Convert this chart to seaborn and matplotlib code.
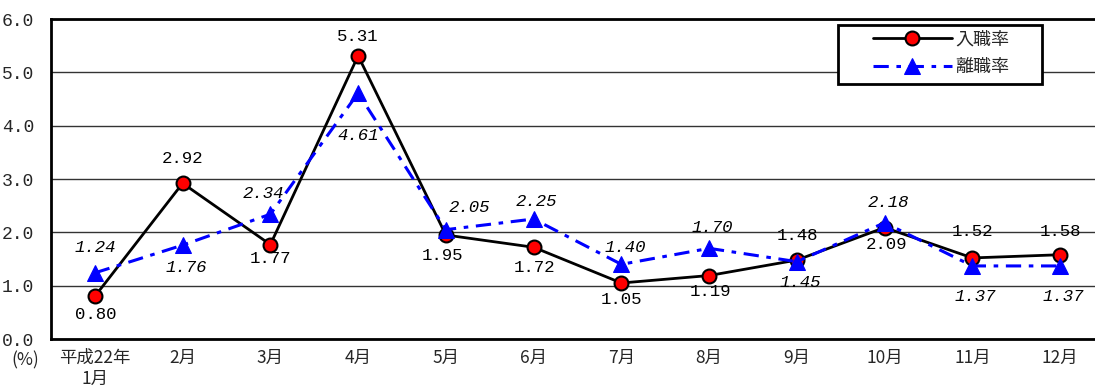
import numpy as np
import pandas as pd
import matplotlib
matplotlib.use("Agg")
import matplotlib.pyplot as plt
from matplotlib.patches import Rectangle
import seaborn as sns

# Monthly hiring / separation rates (%)
months = ["平成22年\n1月", "2月", "3月", "4月", "5月", "6月",
          "7月", "8月", "9月", "10月", "11月", "12月"]
hire_rate = [0.80, 2.92, 1.77, 5.31, 1.95, 1.72, 1.05, 1.19, 1.48, 2.09, 1.52, 1.58]
sep_rate = [1.24, 1.76, 2.34, 4.61, 2.05, 2.25, 1.40, 1.70, 1.45, 2.18, 1.37, 1.37]
series_names = ["入職率", "離職率"]
y_ticks = [0.0, 1.0, 2.0, 3.0, 4.0, 5.0, 6.0]

# Label offsets in pixels (dx, dy) relative to each point
hire_offsets = [(1, -18), (0, 25), (0, -14), (0, 19), (-3, -20), (1, -20),
                (0, -17), (1, -16), (1, 25), (2, -17), (0, 26), (0, 23)]
sep_offsets = [(0, 25), (4, -22), (-7, 21), (0, -42), (24, 22), (3, 17),
               (4, 17), (3, 21), (3, -21), (4, 20), (3, -31), (3, -31)]

sns.set_theme(style="white")
jp = ["Noto Sans CJK JP", "DejaVu Sans"]
num_font = ["Liberation Mono", "Noto Sans CJK JP"]
plt.rcParams["font.family"] = jp

W, H = 1095, 392
fig = plt.figure(figsize=(W / 100, H / 100), dpi=100)
left, right, top, bottom = 51, 1104, 19, 339
ax = fig.add_axes([left / W, 1 - bottom / H, (right - left) / W, (bottom - top) / H])

x = np.arange(len(months))
df = pd.DataFrame({"x": x, "hire": hire_rate, "sep": sep_rate})

sns.lineplot(data=df, x="x", y="hire", ax=ax, color="black", linewidth=2,
             marker="o", markersize=10, markerfacecolor="red",
             markeredgecolor="black", markeredgewidth=1.5, label=series_names[0],
             zorder=3, legend=False)
sns.lineplot(data=df, x="x", y="sep", ax=ax, color="blue", linewidth=2.2,
             marker="^", markersize=11, markerfacecolor="blue",
             markeredgecolor="blue", label=series_names[1], zorder=4, legend=False)
hire_line, sep_line = ax.get_lines()[0], ax.get_lines()[1]
sep_line.set_dashes([5, 2.5, 1.5, 2.5])

ax.set_xlim(-0.5, len(months) - 0.5)
ax.set_ylim(0, 6)
ax.set_xlabel("")
ax.set_ylabel("")

ax.set_yticks(y_ticks)
ax.set_yticklabels([f"{v:.1f}" for v in y_ticks], fontsize=13, family=num_font)
ax.tick_params(axis="y", length=0, pad=12)
ax.yaxis.grid(True, color="#333333", linewidth=1)
ax.xaxis.grid(False)
ax.set_axisbelow(True)

ax.set_xticks(x)
ax.set_xticklabels(months, fontsize=12.5, linespacing=1.2)
ax.set_xticks(np.arange(len(months) + 1) - 0.5, minor=True)
ax.tick_params(axis="x", which="major", length=0, pad=7)
ax.tick_params(axis="x", which="minor", direction="in", length=4, width=1, color="black")

for side in ["left", "bottom", "top"]:
    ax.spines[side].set_visible(True)
    ax.spines[side].set_color("black")
    ax.spines[side].set_linewidth(2)
ax.spines["right"].set_visible(False)

for xi, v, off in zip(x, hire_rate, hire_offsets):
    ax.annotate(f"{v:.2f}", (xi, v), xytext=off, textcoords="offset pixels",
                ha="center", va="center", fontsize=12.5, color="black",
                family=num_font, zorder=6)
for xi, v, off in zip(x, sep_rate, sep_offsets):
    ax.annotate(f"{v:.2f}", (xi, v), xytext=off, textcoords="offset pixels",
                ha="center", va="center", fontsize=12.5, color="black",
                family=num_font, fontstyle="italic", fontweight="normal",
                zorder=6)

fig.text(25 / W, 1 - 360 / H, "(%)", ha="center", va="center", fontsize=12.5)

# Legend: framed box with handles inside
box = Rectangle((838 / W, 1 - 84 / H), (1042 - 838) / W, (84 - 25) / H,
                transform=fig.transFigure, facecolor="white", edgecolor="black",
                linewidth=2, zorder=9)
fig.add_artist(box)
leg = fig.legend(handles=[hire_line, sep_line], labels=series_names,
                 loc="upper left", bbox_to_anchor=(868 / W, 1 - 26 / H),
                 borderaxespad=0, fontsize=13, handlelength=4.4,
                 frameon=False, borderpad=0.25, labelspacing=0.55,
                 handletextpad=0.2)
leg.get_texts()[1].set_style("italic")
leg.set_zorder(10)

fig.savefig("out.png", dpi=100, facecolor="white")
